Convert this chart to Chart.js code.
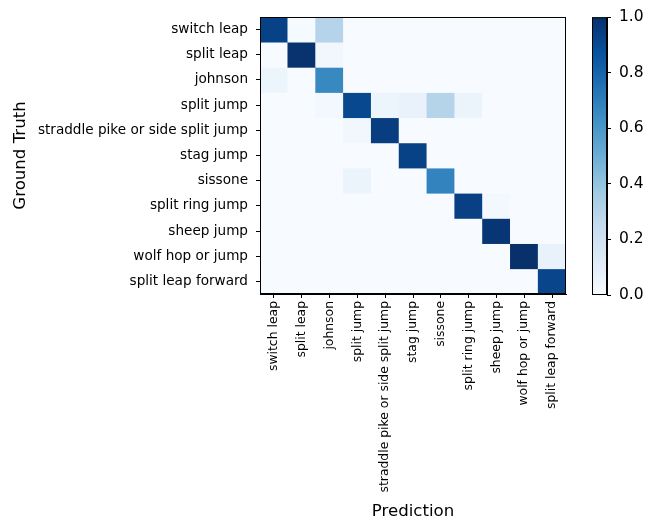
<!DOCTYPE html>
<html>
<head>
<meta charset="utf-8">
<script src="https://cdn.jsdelivr.net/npm/chart.js@4.4.1/dist/chart.umd.min.js"></script>
<style>
    body { margin: 0; background: #fff; }
    #wrap { position: relative; width: 649px; height: 520px; }
    canvas { position: absolute; left: 0; top: 0; }
</style>
</head>
<body>
<div id="wrap">
    <canvas id="matrix" width="649" height="520"></canvas>
    <canvas id="colorbar" width="649" height="520"></canvas>
</div>
<script>
const classes = ['switch leap', 'split leap', 'johnson', 'split jump', 'straddle pike or side split jump',
    'stag jump', 'sissone', 'split ring jump', 'sheep jump', 'wolf hop or jump', 'split leap forward'];

// rows = ground truth, columns = prediction
const rowSwitchLeap = [0.93, 0.01, 0.30, 0, 0, 0, 0, 0, 0, 0, 0];
const rowSplitLeap = [0, 0.99, 0.03, 0, 0, 0, 0, 0, 0, 0, 0];
const rowJohnson = [0.05, 0, 0.66, 0, 0, 0, 0, 0, 0, 0, 0];
const rowSplitJump = [0, 0, 0.02, 0.91, 0.05, 0.07, 0.30, 0.06, 0, 0, 0];
const rowStraddle = [0, 0, 0, 0.03, 0.95, 0, 0, 0, 0, 0, 0];
const rowStagJump = [0, 0, 0, 0, 0, 0.93, 0, 0, 0, 0, 0];
const rowSissone = [0, 0, 0, 0.06, 0, 0, 0.68, 0, 0, 0, 0];
const rowSplitRing = [0, 0, 0, 0, 0, 0, 0, 0.94, 0.02, 0, 0];
const rowSheepJump = [0, 0, 0, 0, 0, 0, 0, 0, 0.98, 0, 0];
const rowWolfHop = [0, 0, 0, 0, 0, 0, 0, 0, 0, 1.0, 0.07];
const rowLeapForward = [0, 0, 0, 0, 0, 0, 0, 0, 0, 0, 0.92];

const confusion = [rowSwitchLeap, rowSplitLeap, rowJohnson, rowSplitJump, rowStraddle, rowStagJump,
    rowSissone, rowSplitRing, rowSheepJump, rowWolfHop, rowLeapForward];

const colorbarTicks = [0, 0.2, 0.4, 0.6, 0.8, 1.0];

// matplotlib "Blues"
const blues = ['#f7fbff', '#deebf7', '#c6dbef', '#9ecae1', '#6baed6', '#4292c6', '#2171b5', '#08519c', '#08306b'];

function hexToRgb(h) {
    return [parseInt(h.slice(1, 3), 16), parseInt(h.slice(3, 5), 16), parseInt(h.slice(5, 7), 16)];
}

function bluesColor(v) {
    v = Math.max(0, Math.min(1, v));
    const pos = v * (blues.length - 1);
    const i = Math.min(Math.floor(pos), blues.length - 2);
    const t = pos - i;
    const a = hexToRgb(blues[i]);
    const b = hexToRgb(blues[i + 1]);
    const c = a.map((x, k) => Math.round(x + (b[k] - x) * t));
    return `rgb(${c[0]}, ${c[1]}, ${c[2]})`;
}

const font = "'DejaVu Sans', sans-serif";

// black frame around the plot area
const framePlugin = {
    id: 'frame',
    afterDraw(chart) {
        const { ctx, chartArea } = chart;
        ctx.save();
        ctx.strokeStyle = '#000';
        ctx.lineWidth = 1;
        ctx.strokeRect(chartArea.left + 0.5, chartArea.top + 0.5,
            chartArea.right - chartArea.left - 1, chartArea.bottom - chartArea.top - 1);
        ctx.restore();
    }
};

// one floating bar per cell: dataset = ground truth row
const datasets = confusion.map((row, r) => ({
    label: classes[r],
    data: row.map(() => [r - 0.5, r + 0.5]),
    backgroundColor: row.map(v => bluesColor(v)),
    borderWidth: 0,
    barPercentage: 1,
    categoryPercentage: 1,
    grouped: false
}));

new Chart(document.getElementById('matrix'), {
    type: 'bar',
    data: { labels: classes, datasets },
    options: {
        responsive: false,
        animation: false,
        layout: { padding: { left: 0, right: 83, top: 17, bottom: 0 } },
        plugins: { legend: { display: false }, tooltip: { enabled: false } },
        scales: {
            x: {
                grid: { display: true, drawOnChartArea: false, drawTicks: true, tickLength: 4, offset: false, color: '#000' },
                border: { display: true, color: '#000' },
                ticks: {
                    color: '#000', autoSkip: false, maxRotation: 90, minRotation: 90, padding: 3,
                    font: { family: font, size: 12.4 }
                },
                title: {
                    display: true, text: 'Prediction', color: '#000',
                    font: { family: font, size: 16.6, lineHeight: 1 }, padding: 0
                },
                afterFit(scale) { scale.height = 226; }
            },
            y: {
                type: 'linear',
                reverse: true,
                min: -0.5,
                max: classes.length - 0.5,
                afterBuildTicks(scale) { scale.ticks = classes.map((_, i) => ({ value: i })); },
                grid: { display: true, drawOnChartArea: false, drawTicks: true, tickLength: 4, color: '#000' },
                border: { display: true, color: '#000' },
                ticks: {
                    color: '#000', padding: 8, autoSkip: false,
                    font: { family: font, size: 13.6 },
                    callback: (v) => classes[v]
                },
                title: {
                    display: true, text: 'Ground Truth', color: '#000',
                    font: { family: font, size: 16.6, lineHeight: 1 }, padding: { top: 12, bottom: 0 }
                },
                afterFit(scale) { scale.width = 260; }
            }
        }
    },
    plugins: [framePlugin]
});

// colorbar
new Chart(document.getElementById('colorbar'), {
    type: 'bar',
    data: {
        labels: [''],
        datasets: [{
            data: [[0, 1]],
            borderWidth: 0,
            barPercentage: 1,
            categoryPercentage: 1,
            backgroundColor(context) {
                const { ctx, chartArea } = context.chart;
                if (!chartArea) return blues[0];
                const g = ctx.createLinearGradient(0, chartArea.bottom, 0, chartArea.top);
                blues.forEach((c, i) => g.addColorStop(i / (blues.length - 1), c));
                return g;
            }
        }]
    },
    options: {
        responsive: false,
        animation: false,
        layout: { padding: { left: 592, right: 0, top: 16, bottom: 225 } },
        plugins: { legend: { display: false }, tooltip: { enabled: false } },
        scales: {
            x: { display: false },
            y: {
                position: 'right',
                min: 0,
                max: 1,
                afterBuildTicks(scale) { scale.ticks = colorbarTicks.map(v => ({ value: v })); },
                grid: { display: true, drawOnChartArea: false, drawTicks: true, tickLength: 4, color: '#000' },
                border: { display: true, color: '#000' },
                ticks: {
                    color: '#000', padding: 8,
                    font: { family: font, size: 15.5 },
                    callback: (v) => Number(v).toFixed(1)
                },
                afterFit(scale) { scale.width = 42; }
            }
        }
    },
    plugins: [framePlugin]
});
</script>
</body>
</html>
